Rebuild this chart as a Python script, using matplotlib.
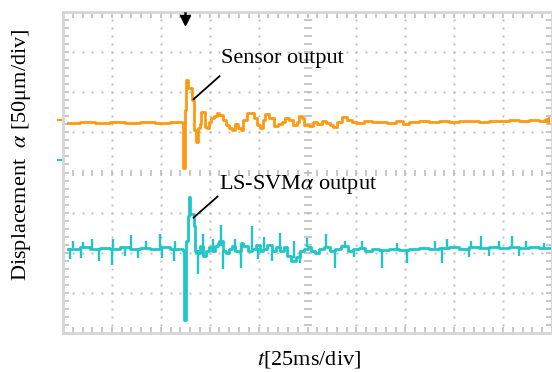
import matplotlib
matplotlib.use("Agg")
import matplotlib.pyplot as plt
import numpy as np

plt.rcParams["font.family"] = ["Liberation Serif", "DejaVu Serif"]
plt.rcParams["mathtext.fontset"] = "stix"

# time in divisions (25 ms/div), displacement in divisions (50 um/div)
sensor_t = [0.10, 0.35, 0.65, 0.96, 1.27, 1.57, 1.88, 2.18, 2.43, 2.45, 2.49, 2.49, 2.51,
            2.55, 2.55, 2.61, 2.63, 2.67, 2.71, 2.76, 2.80, 2.82, 2.86, 2.90, 2.94, 2.98,
            3.02, 3.08, 3.14, 3.20, 3.27, 3.33, 3.39, 3.45, 3.51, 3.57, 3.63, 3.69, 3.76,
            3.84, 3.90, 3.96, 4.02, 4.08, 4.14, 4.22, 4.31, 4.39, 4.47, 4.55, 4.63, 4.71,
            4.78, 4.82, 4.88, 4.92, 5.04, 5.12, 5.20, 5.29, 5.37, 5.45, 5.53, 5.61, 5.71,
            5.80, 5.90, 6.02, 6.16, 6.31, 6.47, 6.63, 6.80, 6.96, 7.08, 7.29, 7.49, 7.69,
            7.90, 8.10, 8.31, 8.51, 8.71, 8.92, 9.12, 9.33, 9.53, 9.73, 9.88]
sensor_y = [1.225, 1.25, 1.225, 1.25, 1.225, 1.25, 1.225, 1.25, 1.225, 0.10, 0.10, 1.55, 2.30,
            2.30, 2.10, 2.10, 1.80, 1.05, 0.75, 1.10, 1.20, 1.50, 1.50, 1.125, 1.10, 1.25,
            1.35, 1.40, 1.475, 1.425, 1.30, 1.175, 1.10, 1.05, 1.20, 1.10, 1.05, 1.30, 1.475,
            1.475, 1.35, 1.175, 1.10, 1.30, 1.45, 1.35, 1.15, 1.20, 1.25, 1.35, 1.30, 1.175,
            1.25, 1.40, 1.35, 1.175, 1.15, 1.25, 1.20, 1.275, 1.225, 1.175, 1.125, 1.25, 1.375,
            1.30, 1.25, 1.225, 1.275, 1.25, 1.25, 1.225, 1.275, 1.20, 1.25, 1.275, 1.25, 1.275,
            1.25, 1.275, 1.275, 1.25, 1.275, 1.275, 1.30, 1.275, 1.30, 1.275, 1.30]

svm_t = [0.10, 0.35, 0.55, 0.76, 0.96, 1.16, 1.37, 1.57, 1.78, 1.98, 2.18, 2.39, 2.45, 2.47,
         2.51, 2.51, 2.55, 2.57, 2.59, 2.65, 2.67, 2.69, 2.73, 2.80, 2.86, 2.92, 2.98, 3.04,
         3.10, 3.16, 3.20, 3.27, 3.33, 3.39, 3.45, 3.51, 3.57, 3.63, 3.69, 3.78, 3.86, 3.94,
         4.02, 4.10, 4.18, 4.27, 4.35, 4.43, 4.51, 4.59, 4.67, 4.76, 4.84, 4.92, 5.00, 5.08,
         5.16, 5.24, 5.33, 5.45, 5.57, 5.69, 5.82, 5.94, 6.06, 6.18, 6.31, 6.47, 6.67, 6.88,
         7.08, 7.29, 7.49, 7.69, 7.90, 8.10, 8.31, 8.51, 8.71, 8.92, 9.12, 9.33, 9.53, 9.73, 9.98]
svm_y = [-1.90, -1.85, -1.90, -1.875, -1.90, -1.85, -1.90, -1.875, -1.90, -1.85, -1.90, -1.90,
         -1.95, -3.675, -3.675, -1.70, -1.075, -0.60, -1.025, -1.025, -1.325, -1.95, -2.00,
         -1.825, -2.075, -1.95, -1.85, -1.95, -1.825, -1.75, -1.70, -1.95, -2.00, -1.90,
         -1.825, -1.95, -1.95, -1.75, -1.825, -1.95, -1.90, -1.80, -1.95, -1.90, -1.80, -1.95,
         -1.85, -1.95, -1.85, -2.075, -2.20, -2.10, -1.95, -1.90, -1.85, -1.95, -2.00, -1.90,
         -1.85, -1.95, -1.90, -1.825, -1.95, -1.90, -1.875, -1.95, -1.90, -1.925, -1.90,
         -1.925, -1.90, -1.875, -1.90, -1.875, -1.85, -1.90, -1.85, -1.875, -1.85, -1.875,
         -1.85, -1.875, -1.85, -1.875, -1.875]

svm_up_t = [0.20, 0.41, 0.59, 1.02, 1.39, 1.69, 1.98, 2.29, 2.86, 3.06, 3.24, 3.51, 3.86, 4.12,
            4.43, 4.73, 4.98, 5.37, 5.76, 6.12, 6.84, 7.61, 7.86, 8.35, 8.55, 8.92, 9.18, 9.47, 9.84]
svm_up_y = [-1.70, -1.725, -1.65, -1.65, -1.55, -1.70, -1.525, -1.70, -1.525, -1.65, -1.30, -1.65,
            -1.325, -1.60, -1.50, -1.70, -1.625, -1.525, -1.70, -1.70, -1.75, -1.70, -1.65, -1.70,
            -1.575, -1.70, -1.575, -1.70, -1.75]
svm_dn_t = [0.14, 0.37, 0.73, 1.00, 1.27, 1.53, 2.02, 2.27, 2.76, 3.27, 3.65, 3.98, 4.27, 4.84,
            5.14, 5.57, 5.96, 6.53, 7.04, 7.76, 8.31, 8.71, 9.33]
svm_dn_y = [-2.15, -2.125, -2.20, -2.30, -2.075, -2.125, -2.125, -2.20, -2.525, -2.40, -2.375,
            -2.15, -2.20, -2.25, -2.00, -2.375, -2.10, -2.375, -2.25, -2.25, -2.10, -2.075, -2.075]

orange = "#ff9a10"
cyan = "#1fc6c8"
grid_c = "#bdbdbd"

fig = plt.figure(figsize=(5.52, 3.72), dpi=100)
ax = fig.add_axes([63 / 552, 39 / 372, 489 / 552, 321 / 372])
ax.set_xlim(0, 9.98)
ax.set_ylim(-4, 4)

# scope graticule
minor = np.arange(0, 10.01, 0.2)
minor_y = np.arange(-4, 4.01, 0.2)
for k in range(1, 10):
    if k == 5:
        continue
    ax.plot(np.full(len(minor_y), k), minor_y, ls="none", marker="s", ms=1.4, color=grid_c, mew=0)
for k in range(-3, 4):
    if k == 0:
        continue
    ax.plot(minor, np.full(len(minor), k), ls="none", marker="s", ms=1.4, color=grid_c, mew=0)
ax.plot(minor, np.zeros(len(minor)), ls="none", marker="|", ms=5, mew=1.2, color=grid_c)
ax.plot(np.full(len(minor_y), 5), minor_y, ls="none", marker="_", ms=6, mew=1.2, color=grid_c)

ax.set_xticks(np.arange(0, 10.01, 1))
ax.set_yticks(np.arange(-4, 4.01, 1))
ax.set_xticks(minor, minor=True)
ax.set_yticks(minor_y, minor=True)
ax.tick_params(which="both", direction="in", length=4, width=1.2, color=grid_c,
               top=True, right=True, labelbottom=False, labelleft=False)
for s in ax.spines.values():
    s.set_color("#d6d6d6")
    s.set_linewidth(2)

# traces
ax.plot(sensor_t, sensor_y, drawstyle="steps-post", color=orange, lw=2)
ax.plot(svm_t, svm_y, drawstyle="steps-post", color=cyan, lw=2)
base_up = np.interp(svm_up_t, svm_t, svm_y)
base_dn = np.interp(svm_dn_t, svm_t, svm_y)
ax.vlines(svm_up_t, base_up, svm_up_y, color=cyan, lw=1.7)
ax.vlines(svm_dn_t, svm_dn_y, base_dn, color=cyan, lw=1.7)

# level markers and trigger arrow
ax.plot([-0.06], [1.32], marker="_", ms=5, mew=1.5, color=orange, clip_on=False)
ax.plot([-0.06], [0.30], marker="_", ms=5, mew=1.5, color=cyan, clip_on=False)
ax.plot([9.88], [1.30], marker="<", ms=5, color=orange)
ax.plot([2.49, 2.49], [3.97, 3.82], color="black", lw=1.8, zorder=5)
ax.plot([2.49], [3.79], marker="v", ms=7, color="black", zorder=5)

# annotations
ax.plot([3.20, 2.67], [2.40, 1.825], color="black", lw=1.3)
ax.text(3.24, 2.83, "Sensor output", fontsize=16, va="center", ha="left")
ax.plot([3.16, 2.67], [-0.60, -1.125], color="black", lw=1.3)
ax.text(3.20, -0.30, r"LS-SVM$\alpha$ output", fontsize=16, va="center", ha="left")

fig.text(22 / 552, 1 - 155 / 372, r"Displacement  $\alpha$ [50μm/div]", fontsize=16,
         rotation=90, ha="center", va="center")
fig.text(309 / 552, 1 - 359 / 372, r"$t$[25ms/div]", fontsize=16, ha="center", va="center")

fig.savefig("out.png", dpi=100)
